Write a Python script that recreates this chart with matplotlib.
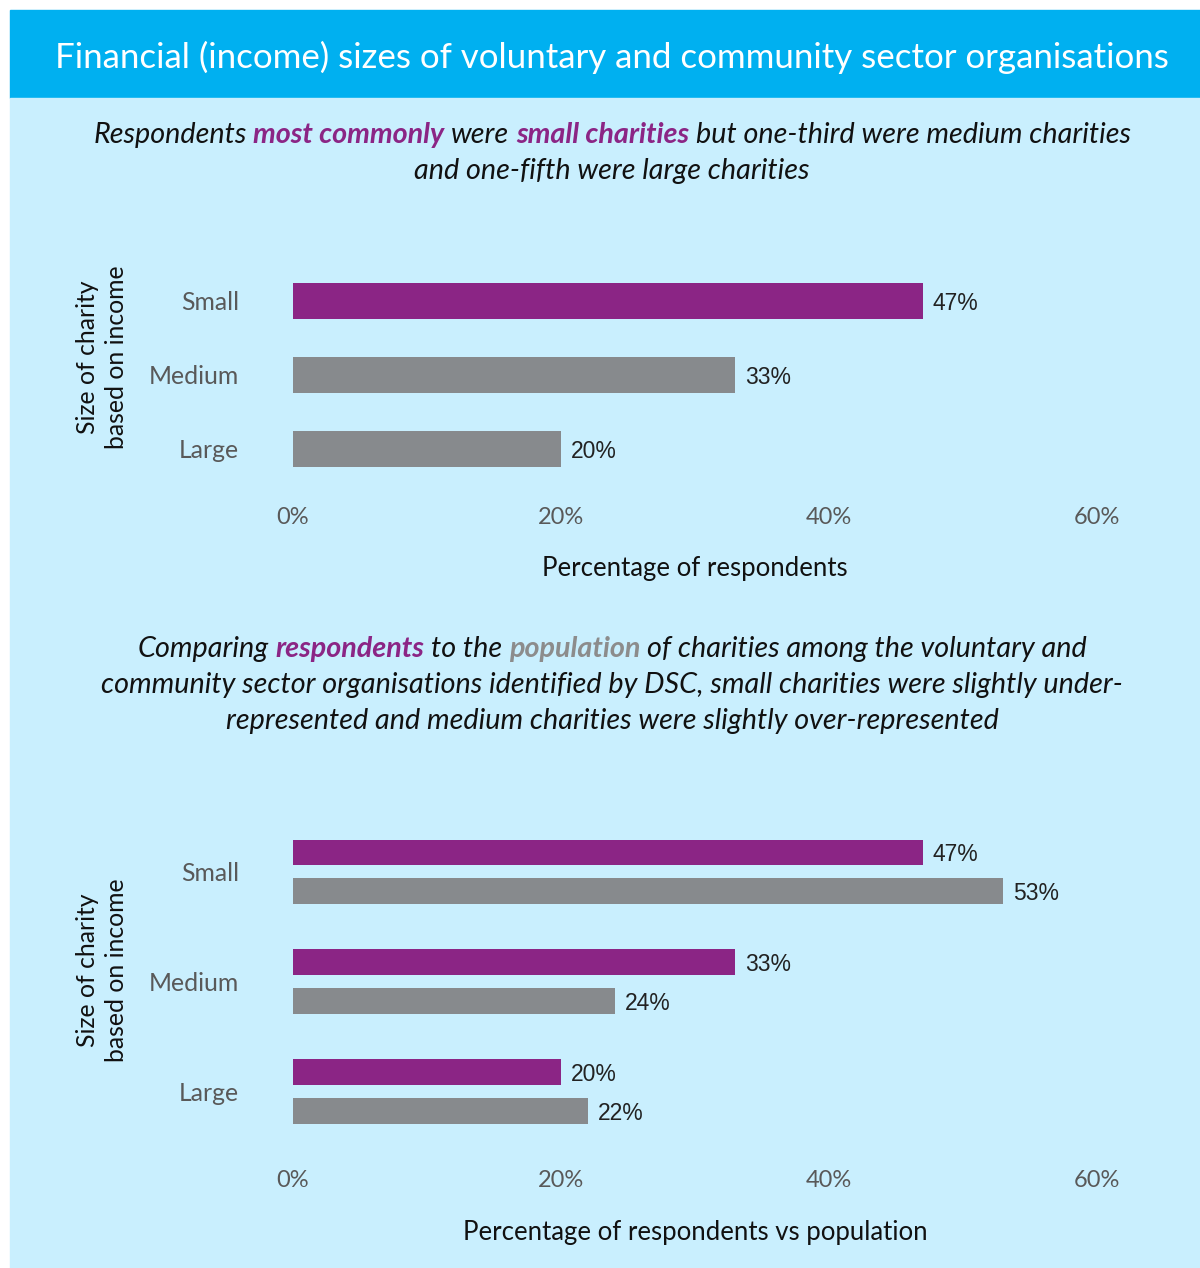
import matplotlib.pyplot as plt
from matplotlib.patches import Rectangle

# Survey data
categories = ["Small", "Medium", "Large"]
respondents = [47, 33, 20]
population = [53, 24, 22]
xticks = [0, 20, 40, 60]

PURPLE = "#8B2585"
GREY = "#878A8D"
HEADER = "#00B0F0"
PANEL = "#C9EFFE"
BLACK = "#111111"
FONT = "Lato"

W, H = 1200, 1268
fig = plt.figure(figsize=(W / 100, H / 100), dpi=100)
fig.patch.set_facecolor("white")

# background blocks
fig.patches.append(Rectangle((10 / W, 1 - 98 / H), 1190 / W, 88 / H,
                             transform=fig.transFigure, color=HEADER, zorder=-10))
fig.patches.append(Rectangle((10 / W, 0), 1190 / W, 1 - 98 / H,
                             transform=fig.transFigure, color=PANEL, zorder=-10))

fig.text(612 / W, 1 - 57 / H,
         "Financial (income) sizes of voluntary and community sector organisations",
         color="white", fontsize=25.1, family=FONT, ha="center", va="center")

renderer = fig.canvas.get_renderer()


def rich_line(y_px, parts, size=20.7):
    # parts: list of (text, color, bold) drawn italic and centred on one line
    probe = fig.text(0, 0, "x x", fontsize=size, family=FONT, style="italic")
    probe2 = fig.text(0, 0, "xx", fontsize=size, family=FONT, style="italic")
    space = probe.get_window_extent(renderer).width - probe2.get_window_extent(renderer).width
    probe.remove()
    probe2.remove()
    items = []
    for s, color, bold in parts:
        t = fig.text(0, 1 - y_px / H, s.strip(), color=color, fontsize=size,
                     family=FONT, style="italic",
                     weight="bold" if bold else "normal", ha="left", va="center")
        items.append((t, s.startswith(" "), s.endswith(" ")))
    total = 0
    for t, lead, trail in items:
        total += t.get_window_extent(renderer).width + space * (lead + trail)
    x = 612 - total / 2
    for t, lead, trail in items:
        if lead:
            x += space
        t.set_x(x / W)
        x += t.get_window_extent(renderer).width
        if trail:
            x += space


rich_line(135, [("Respondents ", BLACK, False), ("most commonly", PURPLE, True),
                (" were ", BLACK, False), ("small charities", PURPLE, True),
                (" but one-third were medium charities", BLACK, False)])
rich_line(171, [("and one-fifth were large charities", BLACK, False)])

rich_line(649, [("Comparing ", BLACK, False), ("respondents", PURPLE, True),
                (" to the ", BLACK, False), ("population", "#8C8C8C", True),
                (" of charities among the voluntary and", BLACK, False)])
rich_line(685, [("community sector organisations identified by DSC, small charities were slightly under-",
                 BLACK, False)])
rich_line(721, [("represented and medium charities were slightly over-represented", BLACK, False)])


def style_axes(ax, xlabel, label_gap, xlabel_pad):
    ax.set_facecolor("none")
    for sp in ax.spines.values():
        sp.set_visible(False)
    ax.set_xlim(0, 60)
    ax.set_xticks(xticks)
    ax.set_xticklabels([f"{v}%" for v in xticks])
    ax.tick_params(axis="both", length=0, labelsize=17, labelcolor="#595959")
    ax.tick_params(axis="y", labelsize=17.8, pad=39)
    ax.tick_params(axis="x", pad=label_gap)
    for lbl in ax.get_xticklabels() + ax.get_yticklabels():
        lbl.set_family(FONT)
    ax.set_xlabel(xlabel, fontsize=18.5, family=FONT, color=BLACK, labelpad=xlabel_pad)


def value_label(ax, v, y):
    ax.text(v + 0.75, y, f"{v}%", va="center_baseline", ha="left", fontsize=16.5,
            family="Liberation Sans", color="#222222")


# top chart: respondents only
ax1 = fig.add_axes([293 / W, 1 - 486 / H, 804 / W, 222 / H])
pos = list(range(len(categories)))
colors = [PURPLE, GREY, GREY]
ax1.barh(pos, respondents, height=0.486, color=colors)
for p, v in zip(pos, respondents):
    value_label(ax1, v, p)
ax1.set_yticks(pos)
ax1.set_yticklabels(categories)
ax1.set_ylim(2.5, -0.5)
style_axes(ax1, "Percentage of respondents", 15, 20)

# bottom chart: respondents vs population
ax2 = fig.add_axes([293 / W, 1 - 1146.5 / H, 804 / W, 329.5 / H])
off = 0.177
bh = 0.236
ax2.barh([p - off for p in pos], respondents, height=bh, color=PURPLE)
ax2.barh([p + off for p in pos], population, height=bh, color=GREY)
for p, v in zip(pos, respondents):
    value_label(ax2, v, p - off)
for p, v in zip(pos, population):
    value_label(ax2, v, p + off)
ax2.set_yticks(pos)
ax2.set_yticklabels(categories)
ax2.set_ylim(2.5, -0.5)
style_axes(ax2, "Percentage of respondents vs population", 17, 21)

# rotated category axis titles
for yc in (357, 970):
    fig.text(102 / W, 1 - yc / H, "Size of charity\nbased on income", rotation=90,
             fontsize=17.8, family=FONT, color=BLACK, ha="center", va="center",
             linespacing=1.3, multialignment="center")

fig.savefig("out.png", dpi=100, facecolor=fig.get_facecolor())
